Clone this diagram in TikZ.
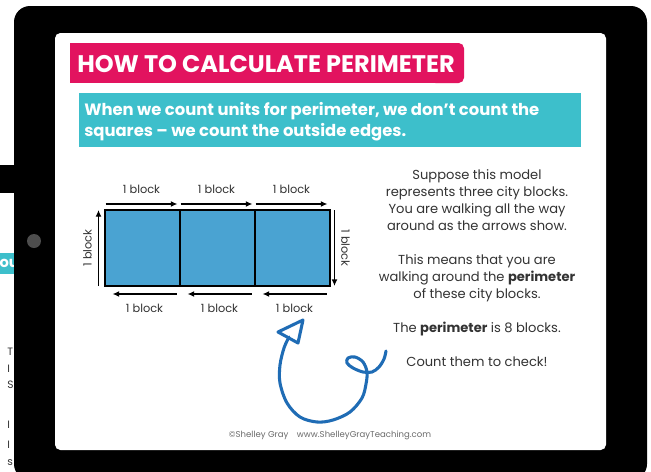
\documentclass[tikz,border=0pt]{standalone}
\usepackage{fontspec}
\setmainfont{Poppins}
\usetikzlibrary{calc,arrows.meta,positioning}
\definecolor{titlepink}{HTML}{E2135F}
\definecolor{bannerteal}{HTML}{3DBFCB}
\definecolor{cityblue}{HTML}{4AA3D2}
\definecolor{walkblue}{HTML}{1F6CB5}
\definecolor{inkgray}{HTML}{333333}
\definecolor{camgray}{HTML}{4D4D4D}
\definecolor{footgray}{HTML}{6A6A6A}

\begin{document}
\begin{tikzpicture}[x=0.75pt, y=-0.75pt,
    cityblock/.style={rectangle, draw=black, line width=1.5pt, fill=cityblue, minimum width=56.25pt, minimum height=57pt, inner sep=0pt, outer sep=0pt},
    walk/.style={-{Latex[length=5pt, width=4.5pt]}, line width=1.3pt, black},
    blocklabel/.style={font=\fontsize{8.5}{10}\selectfont, text=inkgray, inner sep=1pt},
    curlstroke/.style={line width=2.3pt, walkblue, line cap=round, line join=round}
]
    \useasboundingbox (0,0) rectangle (651,472);
    \clip (0,0) rectangle (651,472);
    \fill[white] (0,0) rectangle (651,472);

    % Slide peeking in on the left
    \fill[black] (0,165) rectangle (20,193);
    \fill[bannerteal] (0,253) rectangle (20,274);
    \node[anchor=east, text=white, font=\bfseries\fontsize{11}{13}\selectfont, inner sep=0pt] (peekword) at (19,263) {ou};
    \foreach \ypos/\ch [count=\i] in {352/T, 369/I, 385/S, 425/I, 445/I, 463/s}
        \node[anchor=west, text=inkgray, font=\fontsize{8}{10}\selectfont, inner sep=0pt] (peek\i) at (7,\ypos) {\ch};

    % Tablet frame and screen
    \fill[black, rounded corners=12pt] (14,6) rectangle (647,480);
    \fill[white, rounded corners=4pt] (55,33) rectangle (606,450);
    \fill[camgray] (34,241) circle (5.25pt);

    % === TITLE ===
    \fill[titlepink] (70,43) rectangle (450,83);
    \fill[titlepink, rounded corners=4pt] (430,43) rectangle (464,83);
    \node[anchor=west, text=white, font=\bfseries\fontsize{18}{20}\selectfont, inner sep=0pt] (title) at (77,64) {HOW TO CALCULATE PERIMETER};

    % Teal banner
    \fill[bannerteal] (79,93) rectangle (581,147);
    \node[anchor=north west, align=left, text=white, font=\bfseries\fontsize{12.3}{15.75}\selectfont, inner sep=0pt] (banner) at (84,102)
        {When we count units for perimeter, we don't count the\\squares – we count the outside edges.};

    % === CITY BLOCKS ===
    \node[cityblock] (b1) at (142,248) {};
    \node[cityblock, right=0pt of b1] (b2) {};
    \node[cityblock, right=0pt of b2] (b3) {};

    % Walking arrows, top row
    \foreach \b in {b1,b2,b3}
        \draw[walk] ([shift={(1,-6)}]\b.north west) -- ([shift={(-2,-6)}]\b.north east)
            node[midway, above=6pt, blocklabel] {1 block};
    % Right side
    \draw[walk] ([shift={(5,0)}]b3.north east) -- ([shift={(5,0)}]b3.south east)
        node[midway, sloped, above=3.5pt, blocklabel] {1 block};
    % Bottom row
    \foreach \b in {b3,b2,b1}
        \draw[walk] ([shift={(-3,8)}]\b.south east) -- ([shift={(8,8)}]\b.south west)
            node[midway, below=6pt, blocklabel] {1 block};
    % Left side
    \draw[walk] ([shift={(-6,0)}]b1.south west) -- ([shift={(-6,0)}]b1.north west)
        node[midway, sloped, above=3.5pt, blocklabel] {1 block};

    % Explanation
    \node[align=center, text=inkgray, font=\fontsize{9.8}{12.75}\selectfont] (story) at (477,268)
        {Suppose this model\\represents three city blocks.\\You are walking all the way\\around as the arrows show.\\[12.75pt]
         This means that you are\\walking around the \textbf{perimeter}\\of these city blocks.\\[12.75pt]
         The \textbf{perimeter} is 8 blocks.\\[12.75pt]
         Count them to check!};

    % Curly pointer
    \draw[curlstroke] plot[smooth, tension=0.55] coordinates {(386,351) (384,359) (379,367) (372,372) (363,372) (353,368) (347,363) (348,358) (355,357) (363,362) (367,372) (366,384) (362,398) (350,412) (333,420) (317,422) (300,417) (287,403) (280,383) (280,365) (284,348) (289,337)};
    \draw[curlstroke] (278,332) -- (303,320) -- (298,343) -- cycle;

    % Footer
    \node[text=footgray, font=\fontsize{6.4}{8}\selectfont] (credit) at (330,435) {©Shelley Gray\quad www.ShelleyGrayTeaching.com};

\end{tikzpicture}
\end{document}
